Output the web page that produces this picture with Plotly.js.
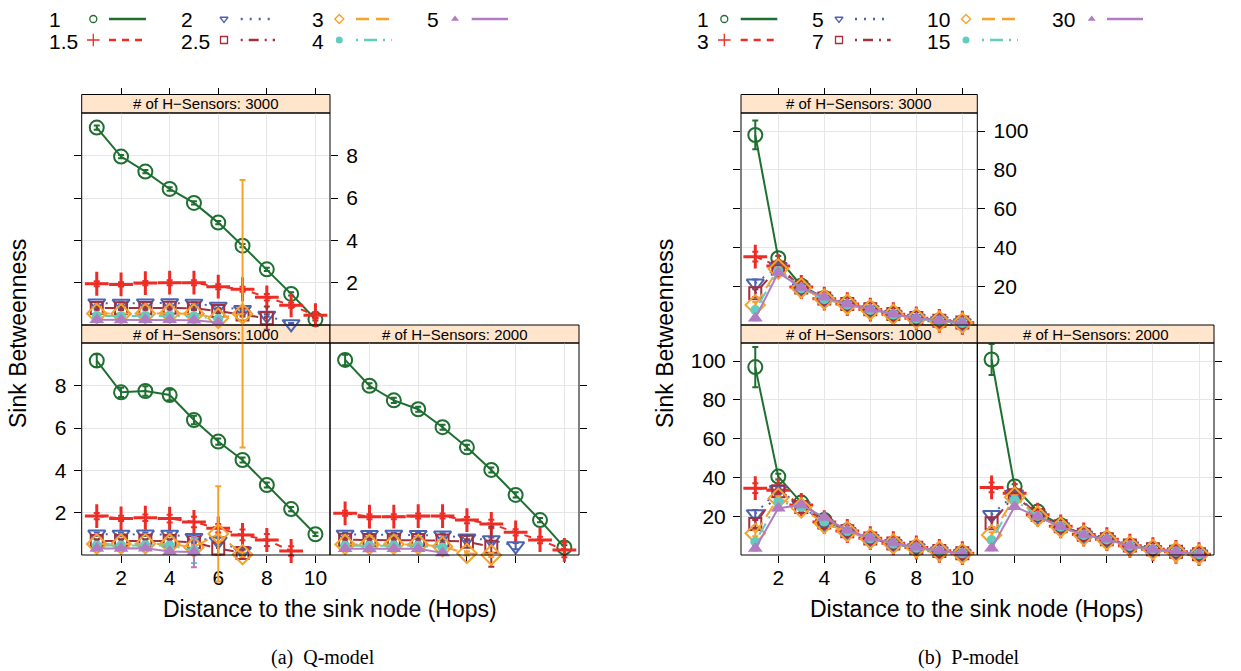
<!DOCTYPE html>
<html><head><meta charset="utf-8">
<script src="https://cdn.plot.ly/plotly-3.0.1.min.js"></script>
<style>html,body{margin:0;padding:0;background:#fff}#chart{width:1241px;height:671px}</style>
</head><body><div id="chart"></div>
<script>
// ---------------- DATA ----------------
const hops = [1, 2, 3, 4, 5, 6, 7, 8, 9, 10];
const qLevels = ["1", "1.5", "2", "2.5", "3", "4", "5"];
const pLevels = ["1", "3", "5", "7", "10", "15", "30"];
const panelTitles = ["# of H\u2212Sensors: 3000", "# of H\u2212Sensors: 1000", "# of H\u2212Sensors: 2000"];
const xTicks = [2, 4, 6, 8, 10];
const qYTicks = [2, 4, 6, 8];
const pYTicks = [20, 40, 60, 80, 100];

// Q-model, 3000 H-sensors
const q3000_s1  = [9.33, 7.96, 7.25, 6.43, 5.77, 4.84, 3.75, 2.63, 1.47, 0.27];
const q3000_s15 = [1.95, 1.92, 1.98, 2.00, 2.00, 1.81, 1.69, 1.31, 0.93, 0.46];
const q3000_s2  = [1.03, 1.02, 1.03, 1.04, 1.02, 0.88, 0.72, 0.45, 0.05, null];
const q3000_s25 = [0.80, 0.79, 0.80, 0.81, 0.79, 0.66, 0.50, 0.32, null, null];
const q3000_s3  = [0.54, 0.53, 0.54, 0.55, 0.53, 0.32, 0.53, null, null, null];
const q3000_s4  = [0.42, 0.41, 0.42, 0.43, 0.41, 0.28, null, null, null, null];
const q3000_s5  = [0.25, 0.24, 0.25, 0.25, 0.22, 0.12, null, null, null, null];
const q3000_e1  = [0.10, 0.08, 0.08, 0.08, 0.08, 0.08, 0.08, 0.08, 0.08, 0.06];
const q3000_e15 = [0.12, 0.10, 0.10, 0.12, 0.12, 0.12, 0.12, 0.15, 0.12, 0.15];
const q3000_e2  = [0.06, 0.06, 0.06, 0.06, 0.06, 0.06, 0.06, 0.06, 0.05, null];
const q3000_e25 = [0.08, 0.08, 0.08, 0.08, 0.08, 0.10, 0.10, 0.55, null, null];
const q3000_e3  = [0.05, 0.05, 0.05, 0.05, 0.05, 0.08, 6.32, null, null, null];
const q3000_e4  = [0.05, 0.05, 0.05, 0.05, 0.05, 0.08, null, null, null, null];
const q3000_e5  = [0.05, 0.05, 0.05, 0.05, 0.05, 0.06, null, null, null, null];

// Q-model, 1000 H-sensors
const q1000_s1  = [9.19, 7.69, 7.75, 7.56, 6.38, 5.36, 4.49, 3.31, 2.17, 0.98];
const q1000_s15 = [1.84, 1.73, 1.76, 1.72, 1.56, 1.26, 0.95, 0.71, 0.19, null];
const q1000_s2  = [0.98, 0.97, 0.98, 0.97, 0.82, 0.66, 0.18, null, null, null];
const q1000_s25 = [0.66, 0.66, 0.67, 0.66, 0.60, 0.31, 0.10, null, null, null];
const q1000_s3  = [0.52, 0.52, 0.53, 0.52, 0.37, 1.00, 0.02, null, null, null];
const q1000_s4  = [0.45, 0.45, 0.46, 0.45, 0.22, null, null, null, null, null];
const q1000_s5  = [0.31, 0.31, 0.32, 0.16, 0.14, null, null, null, null, null];
const q1000_e1  = [0.30, 0.22, 0.22, 0.25, 0.20, 0.15, 0.12, 0.12, 0.10, 0.08];
const q1000_e15 = [0.15, 0.12, 0.15, 0.18, 0.25, 0.20, 0.25, 0.28, 0.22, null];
const q1000_e2  = [0.08, 0.08, 0.08, 0.08, 0.15, 0.15, 0.10, null, null, null];
const q1000_e25 = [0.08, 0.08, 0.08, 0.08, 0.10, 0.30, 0.15, null, null, null];
const q1000_e3  = [0.06, 0.06, 0.06, 0.06, 0.10, 2.25, 0.10, null, null, null];
const q1000_e4  = [0.06, 0.06, 0.06, 0.06, 0.60, null, null, null, null, null];
const q1000_e5  = [0.05, 0.05, 0.05, 0.06, 0.72, null, null, null, null, null];

// Q-model, 2000 H-sensors
const q2000_s1  = [9.22, 8.00, 7.31, 6.89, 6.04, 5.09, 4.02, 2.84, 1.65, 0.36];
const q2000_s15 = [1.97, 1.81, 1.81, 1.84, 1.84, 1.65, 1.47, 1.07, 0.71, 0.24];
const q2000_s2  = [0.97, 0.96, 0.97, 0.96, 0.93, 0.79, 0.71, 0.42, null, null];
const q2000_s25 = [0.72, 0.71, 0.72, 0.71, 0.68, 0.63, 0.39, null, null, null];
const q2000_s3  = [0.50, 0.50, 0.51, 0.50, 0.40, 0.08, 0.00, null, null, null];
const q2000_s4  = [0.44, 0.44, 0.45, 0.44, 0.35, null, null, null, null, null];
const q2000_s5  = [0.29, 0.28, 0.29, 0.29, 0.10, null, null, null, null, null];
const q2000_e1  = [0.25, 0.12, 0.12, 0.12, 0.12, 0.12, 0.12, 0.12, 0.10, 0.10];
const q2000_e15 = [0.12, 0.12, 0.12, 0.12, 0.12, 0.15, 0.20, 0.15, 0.15, 0.35];
const q2000_e2  = [0.08, 0.08, 0.08, 0.08, 0.10, 0.12, 0.12, 0.15, null, null];
const q2000_e25 = [0.08, 0.08, 0.08, 0.08, 0.10, 0.12, 0.95, null, null, null];
const q2000_e3  = [0.06, 0.06, 0.06, 0.06, 0.08, 0.10, 0.10, null, null, null];
const q2000_e4  = [0.06, 0.06, 0.06, 0.06, 0.08, null, null, null, null, null];
const q2000_e5  = [0.05, 0.05, 0.05, 0.05, 0.06, null, null, null, null, null];

// P-model, 3000 H-sensors
const p3000_s1  = [98.0, 34.6, 20.5, 14.2, 11.2, 8.5, 5.9, 3.8, 2.5, 1.5];
const p3000_s3  = [35.4, 30.6, 19.8, 13.8, 11.0, 8.2, 5.8, 3.7, 2.4, 1.4];
const p3000_s5  = [21.7, 30.2, 19.4, 13.5, 10.8, 8.0, 5.6, 3.6, 2.3, 1.3];
const p3000_s7  = [16.6, 29.8, 19.6, 13.9, 11.1, 8.4, 5.9, 3.8, 2.5, 1.5];
const p3000_s10 = [10.6, 29.0, 19.2, 13.6, 10.9, 8.1, 5.7, 3.6, 2.3, 1.3];
const p3000_s15 = [8.0, 28.0, 19.0, 13.5, 10.7, 8.0, 5.6, 3.5, 2.3, 1.3];
const p3000_s30 = [3.7, 27.2, 19.5, 14.5, 11.1, 8.4, 5.8, 3.7, 2.5, 1.5];
const p3000_e1  = [7.4, 1.2, 0.8, 0.6, 0.5, 0.4, 0.3, 0.3, 0.2, 0.2];

// P-model, 1000 H-sensors
const p1000_s1  = [96.9, 40.6, 27.2, 18.3, 12.8, 8.8, 6.2, 4.0, 2.3, 1.1];
const p1000_s3  = [34.6, 33.5, 26.0, 17.2, 12.6, 8.9, 6.3, 4.1, 2.4, 1.2];
const p1000_s5  = [21.4, 33.8, 25.5, 16.5, 12.2, 8.6, 6.0, 3.9, 2.2, 1.0];
const p1000_s7  = [16.2, 33.0, 25.0, 17.0, 12.5, 8.8, 6.2, 4.0, 2.3, 1.1];
const p1000_s10 = [11.4, 29.5, 24.5, 16.5, 12.3, 8.6, 6.0, 3.9, 2.2, 1.0];
const p1000_s15 = [7.1, 27.7, 25.0, 17.5, 12.6, 8.8, 6.1, 4.0, 2.3, 1.1];
const p1000_s30 = [3.6, 24.3, 26.0, 19.6, 13.0, 9.0, 6.4, 4.2, 2.4, 1.2];
const p1000_e1  = [10.3, 1.5, 1.0, 0.8, 0.6, 0.5, 0.4, 0.3, 0.2, 0.2];

// P-model, 2000 H-sensors
const p2000_s1  = [100.8, 35.5, 22.6, 15.5, 11.0, 8.5, 5.2, 3.3, 2.0, 0.8];
const p2000_s3  = [35.0, 32.0, 21.0, 15.0, 10.8, 8.4, 5.0, 3.2, 1.9, 0.7];
const p2000_s5  = [20.9, 31.5, 20.5, 14.6, 10.4, 8.1, 4.8, 3.0, 1.8, 0.6];
const p2000_s7  = [16.6, 31.0, 20.8, 15.0, 10.7, 8.4, 5.1, 3.2, 1.9, 0.7];
const p2000_s10 = [10.5, 30.0, 20.2, 14.5, 10.3, 8.0, 4.8, 3.0, 1.8, 0.6];
const p2000_s15 = [8.0, 28.5, 20.3, 14.8, 10.5, 8.2, 4.9, 3.1, 1.9, 0.7];
const p2000_s30 = [3.7, 25.1, 20.0, 14.8, 10.5, 8.3, 4.9, 3.1, 1.9, 0.7];
const p2000_e1  = [8.0, 1.2, 1.0, 0.7, 0.5, 0.4, 0.3, 0.3, 0.2, 0.2];

// P-model error half-widths of the other levels (shared by panels)
const pErr3  = [2.5, 1.0, 0.8, 0.6, 0.5, 0.4, 0.3, 0.3, 0.2, 0.2];
const pErr5  = [2.0, 1.0, 0.8, 0.6, 0.5, 0.4, 0.3, 0.3, 0.2, 0.2];
const pErr7  = [2.0, 1.0, 0.8, 0.6, 0.5, 0.4, 0.3, 0.3, 0.2, 0.2];
const pErr10 = [1.5, 1.0, 0.8, 0.6, 0.5, 0.4, 0.3, 0.3, 0.2, 0.2];
const pErr15 = [1.2, 1.0, 0.8, 0.6, 0.5, 0.4, 0.3, 0.3, 0.2, 0.2];
const pErr30 = [1.0, 1.0, 0.8, 0.6, 0.5, 0.4, 0.3, 0.3, 0.2, 0.2];

// ---------------- STYLE / LAYOUT ----------------
const W = 1241, H = 671;
const fx = p => p / W;
const fy = p => 1 - p / H;
const FONT = "Liberation Sans, Arial, sans-serif";
const TICK_SIZE = 21, TITLE_SIZE = 23, LEG_SIZE = 21, STRIP_SIZE = 15;

const styles = [
  {color: "#1f6f30", symbol: "circle-open",        size: 14, lw: 2,   dash: "solid"},
  {color: "#ee2b24", symbol: "cross-thin-open",    size: 17, lw: 3,   dash: "7px,6px"},
  {color: "#4a63b3", symbol: "triangle-down-open", size: 15, lw: 2,   dash: "2px,7px"},
  {color: "#a3303a", symbol: "square-open",        size: 12, lw: 2,   dash: "2px,6px,10px,6px"},
  {color: "#f6a22c", symbol: "diamond-open",       size: 15, lw: 2,   dash: "13px,7px"},
  {color: "#62cdbd", symbol: "circle",             size: 10, lw: 0,   dash: "2px,6px,13px,6px"},
  {color: "#b27cc3", symbol: "triangle-up",        size: 13, lw: 0,   dash: "solid"}
];

const rows = {topStrip: [94.5, 113], topPlot: [113, 325], botStrip: [325, 343], botPlot: [343, 555]};
// vertical pixel extent where marks of a panel may spill (lattice does not clip error bars)
const spill = {top: [100, 560], bot: [330, 610]};

const charts = [
  {
    levels: qLevels, cols: [81.7, 330, 579], xr: [0.38, 10.6], yr: [0, 10.02], yt: qYTicks, axBase: 0,
    panels: [
      {s: [q3000_s1, q3000_s15, q3000_s2, q3000_s25, q3000_s3, q3000_s4, q3000_s5],
       e: [q3000_e1, q3000_e15, q3000_e2, q3000_e25, q3000_e3, q3000_e4, q3000_e5]},
      {s: [q1000_s1, q1000_s15, q1000_s2, q1000_s25, q1000_s3, q1000_s4, q1000_s5],
       e: [q1000_e1, q1000_e15, q1000_e2, q1000_e25, q1000_e3, q1000_e4, q1000_e5]},
      {s: [q2000_s1, q2000_s15, q2000_s2, q2000_s25, q2000_s3, q2000_s4, q2000_s5],
       e: [q2000_e1, q2000_e15, q2000_e2, q2000_e25, q2000_e3, q2000_e4, q2000_e5]}
    ],
    ylabX: 18, xtitleX: 330, sub: "(a)  Q-model", subX: 323,
    leg: {label: [50, 181.7, 313.3, 428.3], marker: [93.3, 224, 339.3, 455],
          line: [[109, 146], [240.7, 275], [356, 391.7], [471.7, 508]]}
  },
  {
    levels: pLevels, cols: [741, 977.3, 1214], xr: [0.38, 10.65], yr: [0.25, 109.3], yt: pYTicks, axBase: 3,
    panels: [
      {s: [p3000_s1, p3000_s3, p3000_s5, p3000_s7, p3000_s10, p3000_s15, p3000_s30],
       e: [p3000_e1, pErr3, pErr5, pErr7, pErr10, pErr15, pErr30]},
      {s: [p1000_s1, p1000_s3, p1000_s5, p1000_s7, p1000_s10, p1000_s15, p1000_s30],
       e: [p1000_e1, pErr3, pErr5, pErr7, pErr10, pErr15, pErr30]},
      {s: [p2000_s1, p2000_s3, p2000_s5, p2000_s7, p2000_s10, p2000_s15, p2000_s30],
       e: [p2000_e1, pErr3, pErr5, pErr7, pErr10, pErr15, pErr30]}
    ],
    ylabX: 665, xtitleX: 977, sub: "(b)  P-model", subX: 969,
    leg: {label: [698.3, 813, 928, 1053], marker: [724.3, 839, 966, 1091.7],
          line: [[740.7, 777.3], [855, 890.7], [982, 1018], [1107, 1143]]}
  }
];
const legRows = [19, 40];

const traces = [];
const layout = {
  width: W, height: H,
  margin: {l: 0, r: 0, t: 0, b: 0},
  paper_bgcolor: "#ffffff", plot_bgcolor: "rgba(0,0,0,0)",
  showlegend: false,
  font: {family: FONT, color: "#000"},
  shapes: [], annotations: []
};

const baseAxis = {
  ticks: "outside", ticklen: 7, tickwidth: 1, tickcolor: "#000",
  showgrid: true, gridcolor: "#e6e6e6", gridwidth: 1,
  zeroline: false, showline: false, fixedrange: true,
  tickfont: {family: FONT, size: TICK_SIZE, color: "#000"}
};

charts.forEach(ch => {
  ch.panels.forEach((pn, p) => {
    const n = ch.axBase + p + 1;
    const xName = n === 1 ? "xaxis" : "xaxis" + n;
    const yName = n === 1 ? "yaxis" : "yaxis" + n;
    const xRef = n === 1 ? "x" : "x" + n;
    const yRef = n === 1 ? "y" : "y" + n;
    const dn = n + 10;                       // drawing axes (same scale, taller extent)
    const c0 = p === 2 ? ch.cols[1] : ch.cols[0];
    const c1 = p === 2 ? ch.cols[2] : ch.cols[1];
    const plotRow = p === 0 ? rows.topPlot : rows.botPlot;
    const stripRow = p === 0 ? rows.topStrip : rows.botStrip;
    const sp = p === 0 ? spill.top : spill.bot;

    // visible axes: ticks, labels, grid
    const xa = Object.assign({}, baseAxis, {
      domain: [fx(c0), fx(c1)], range: ch.xr, tickmode: "array", tickvals: xTicks
    });
    if (p === 0) Object.assign(xa, {side: "top", anchor: "free", position: fy(stripRow[0]), showticklabels: false});
    else Object.assign(xa, {side: "bottom", anchor: yRef, showticklabels: p === 1, ticklabelstandoff: -3});
    const ya = Object.assign({}, baseAxis, {
      domain: [fy(plotRow[1]), fy(plotRow[0])], range: ch.yr, tickmode: "array", tickvals: ch.yt
    });
    if (p === 0) Object.assign(ya, {side: "right", anchor: xRef, showticklabels: true, mirror: "ticks", ticklabelstandoff: 4});
    else if (p === 1) Object.assign(ya, {side: "left", anchor: xRef, showticklabels: true, ticklabelstandoff: 3});
    else Object.assign(ya, {side: "right", anchor: xRef, showticklabels: false});
    layout[xName] = xa;
    layout[yName] = ya;
    // keep the visible subplot alive (no marks)
    traces.push({type: "scatter", mode: "markers", x: [], y: [], xaxis: xRef, yaxis: yRef, hoverinfo: "skip"});

    // drawing axes: same data-per-pixel scale, taller vertical extent, invisible
    const k = (ch.yr[1] - ch.yr[0]) / (plotRow[1] - plotRow[0]);
    layout["xaxis" + dn] = {domain: [fx(c0), fx(c1)], range: ch.xr, anchor: "y" + dn,
      visible: false, showgrid: false, zeroline: false, fixedrange: true};
    layout["yaxis" + dn] = {domain: [fy(sp[1]), fy(sp[0])],
      range: [ch.yr[0] - (sp[1] - plotRow[1]) * k, ch.yr[1] + (plotRow[0] - sp[0]) * k],
      anchor: "x" + dn, visible: false, showgrid: false, zeroline: false, fixedrange: true};

    // strip
    layout.shapes.push({type: "rect", xref: "paper", yref: "paper", layer: "below",
      x0: fx(c0), x1: fx(c1), y0: fy(stripRow[1]), y1: fy(stripRow[0]),
      fillcolor: "#ffe5cc", line: {color: "#000", width: 1}});
    layout.annotations.push({xref: "paper", yref: "paper", x: fx((c0 + c1) / 2), y: fy((stripRow[0] + stripRow[1]) / 2),
      text: panelTitles[p], showarrow: false, xanchor: "center", yanchor: "middle",
      font: {family: FONT, size: STRIP_SIZE, color: "#000"}});
    // panel box
    layout.shapes.push({type: "rect", xref: "paper", yref: "paper", layer: "above",
      x0: fx(c0), x1: fx(c1), y0: fy(plotRow[1]), y1: fy(plotRow[0]),
      line: {color: "#000", width: 1}});

    pn.s.forEach((vals, i) => {
      const st = styles[i];
      traces.push({
        type: "scatter", mode: "lines+markers", x: hops, y: vals,
        xaxis: "x" + dn, yaxis: "y" + dn, cliponaxis: false, connectgaps: false, hoverinfo: "skip",
        line: {color: st.color, width: 2, dash: st.dash},
        marker: {symbol: st.symbol, size: st.size, color: st.color,
                 line: {color: st.color, width: st.lw}},
        error_y: {type: "data", array: pn.e[i], visible: true, color: st.color, thickness: 2, width: 3}
      });
    });
  });

  // axis titles
  layout.annotations.push({xref: "paper", yref: "paper", x: fx(ch.ylabX), y: fy(334), text: "Sink Betweenness",
    textangle: -90, showarrow: false, xanchor: "center", yanchor: "middle", font: {family: FONT, size: TITLE_SIZE}});
  layout.annotations.push({xref: "paper", yref: "paper", x: fx(ch.xtitleX), y: fy(609),
    text: "Distance to the sink node (Hops)", showarrow: false, xanchor: "center", yanchor: "middle",
    font: {family: FONT, size: TITLE_SIZE}});
  layout.annotations.push({xref: "paper", yref: "paper", x: fx(ch.subX), y: fy(657), text: ch.sub,
    showarrow: false, xanchor: "center", yanchor: "middle",
    font: {family: "Liberation Serif, DejaVu Serif, serif", size: 20}});

  // legend (key)
  ch.levels.forEach((lv, k) => {
    const col = Math.floor(k / 2), row = k % 2, st = styles[k];
    const yy = legRows[row];
    layout.annotations.push({xref: "paper", yref: "paper", x: fx(ch.leg.label[col] - 3), y: fy(yy + 1),
      text: lv, showarrow: false, xanchor: "left", yanchor: "middle", font: {family: FONT, size: LEG_SIZE}});
    layout.shapes.push({type: "line", xref: "x7", yref: "y7",
      x0: ch.leg.line[col][0], x1: ch.leg.line[col][1], y0: yy, y1: yy,
      line: {color: st.color, width: 2.5, dash: st.dash}});
    traces.push({type: "scatter", mode: "markers", x: [ch.leg.marker[col]], y: [yy],
      xaxis: "x7", yaxis: "y7", cliponaxis: false, hoverinfo: "skip",
      marker: {symbol: st.symbol, size: st.symbol === "cross-thin-open" ? 9 : 7, color: st.color,
               line: {color: st.color, width: st.lw ? 1.3 : 0}}});
  });
});

layout.xaxis7 = {domain: [0, 1], range: [0, W], visible: false, fixedrange: true, anchor: "y7"};
layout.yaxis7 = {domain: [0, 1], range: [H, 0], visible: false, fixedrange: true, anchor: "x7"};

Plotly.newPlot("chart", traces, layout, {staticPlot: true, displayModeBar: false});
</script>
</body></html>
